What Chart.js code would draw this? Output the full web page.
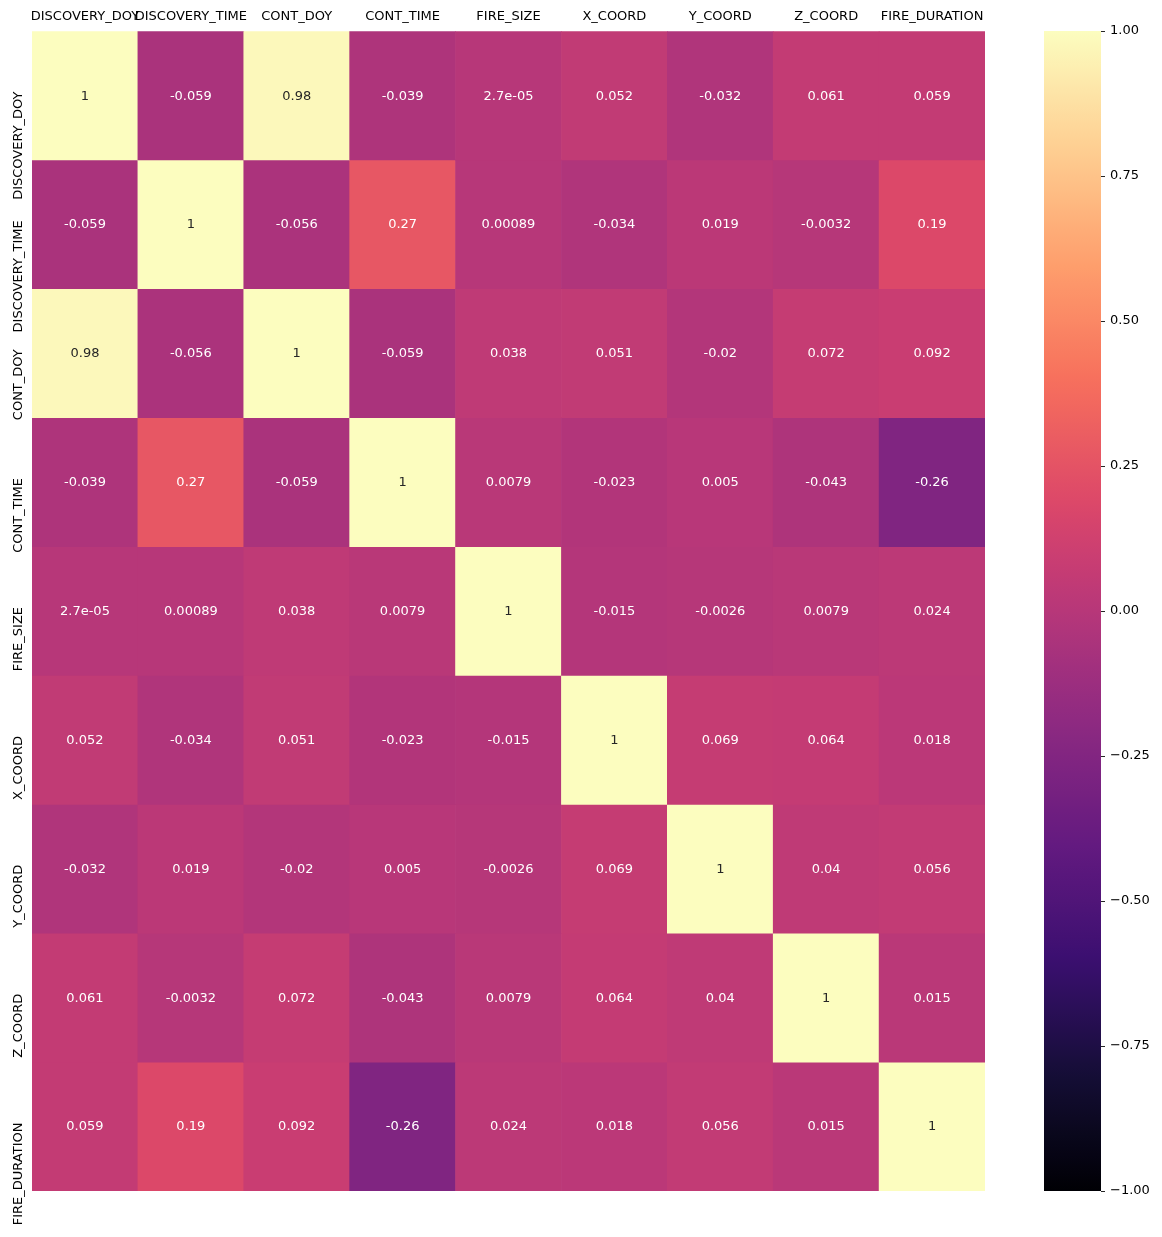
<!DOCTYPE html>
<html>
<head>
<meta charset="utf-8">
<script src="https://cdn.jsdelivr.net/npm/chart.js@4/dist/chart.umd.min.js"></script>
<style>
  html, body { margin: 0; padding: 0; background: #ffffff; }
  #wrap { position: relative; width: 1162px; height: 1237px; }
  #heat { position: absolute; left: 0; top: 0; }
  #cbar { position: absolute; left: 1000px; top: 0; }
</style>
</head>
<body>
<div id="wrap">
  <canvas id="heat" width="1162" height="1237"></canvas>
  <canvas id="cbar" width="162" height="1237"></canvas>
</div>
<script>
// ---------- DATA ----------
const variables = ['DISCOVERY_DOY', 'DISCOVERY_TIME', 'CONT_DOY', 'CONT_TIME', 'FIRE_SIZE', 'X_COORD', 'Y_COORD', 'Z_COORD', 'FIRE_DURATION'];

const rowDiscoveryDoy  = [1, -0.059, 0.98, -0.039, 2.7e-05, 0.052, -0.032, 0.061, 0.059];
const rowDiscoveryTime = [-0.059, 1, -0.056, 0.27, 0.00089, -0.034, 0.019, -0.0032, 0.19];
const rowContDoy       = [0.98, -0.056, 1, -0.059, 0.038, 0.051, -0.02, 0.072, 0.092];
const rowContTime      = [-0.039, 0.27, -0.059, 1, 0.0079, -0.023, 0.005, -0.043, -0.26];
const rowFireSize      = [2.7e-05, 0.00089, 0.038, 0.0079, 1, -0.015, -0.0026, 0.0079, 0.024];
const rowXCoord        = [0.052, -0.034, 0.051, -0.023, -0.015, 1, 0.069, 0.064, 0.018];
const rowYCoord        = [-0.032, 0.019, -0.02, 0.005, -0.0026, 0.069, 1, 0.04, 0.056];
const rowZCoord        = [0.061, -0.0032, 0.072, -0.043, 0.0079, 0.064, 0.04, 1, 0.015];
const rowFireDuration  = [0.059, 0.19, 0.092, -0.26, 0.024, 0.018, 0.056, 0.015, 1];

const matrix = [rowDiscoveryDoy, rowDiscoveryTime, rowContDoy, rowContTime, rowFireSize, rowXCoord, rowYCoord, rowZCoord, rowFireDuration];

const colorMin = -1;
const colorMax = 1;
const colorbarTicks = [-1, -0.75, -0.5, -0.25, 0, 0.25, 0.5, 0.75, 1];

// ---------- COLORMAP (magma) ----------
const magmaStops = [
  [0.00, [0, 0, 4]],
  [0.10, [20, 14, 54]],
  [0.20, [59, 15, 112]],
  [0.30, [100, 26, 128]],
  [0.40, [140, 41, 129]],
  [0.45, [161, 48, 126]],
  [0.50, [183, 55, 121]],
  [0.55, [203, 62, 113]],
  [0.60, [222, 73, 104]],
  [0.70, [247, 112, 92]],
  [0.80, [254, 159, 109]],
  [0.90, [254, 207, 146]],
  [1.00, [252, 253, 191]]
];
function magmaRGB(t) {
  t = Math.max(0, Math.min(1, t));
  for (let i = 1; i < magmaStops.length; i++) {
    const [t1, c1] = magmaStops[i];
    const [t0, c0] = magmaStops[i - 1];
    if (t <= t1) {
      const f = (t - t0) / (t1 - t0);
      return c0.map((c, k) => Math.round(c + (c1[k] - c) * f));
    }
  }
  return magmaStops[magmaStops.length - 1][1];
}
function magma(t) { const c = magmaRGB(t); return `rgb(${c[0]},${c[1]},${c[2]})`; }
function norm(v) { return (v - colorMin) / (colorMax - colorMin); }
function luminance(rgb) {
  const lin = rgb.map(c => { c /= 255; return c <= 0.03928 ? c / 12.92 : Math.pow((c + 0.055) / 1.055, 2.4); });
  return 0.2126 * lin[0] + 0.7152 * lin[1] + 0.0722 * lin[2];
}
// python ".2g" formatting
function fmtG(v) {
  if (v === 0) return '0';
  const e = Math.floor(Math.log10(Math.abs(v)));
  if (e < -4 || e >= 2) {
    let s = v.toExponential(1).replace(/\.0e/, 'e');
    return s.replace(/e([+-])(\d)$/, 'e$10$2');
  }
  let s = v.toPrecision(2);
  if (s.indexOf('.') >= 0) s = s.replace(/0+$/, '').replace(/\.$/, '');
  return s;
}

const FONT = 'DejaVu Sans';
const TEXT = '#000000';
const gridCol = 'rgba(255,255,255,0.22)';

// ---------- HEATMAP ----------
const annotPlugin = {
  id: 'annot',
  afterDraw(chart) {
    const ctx = chart.ctx;
    ctx.save();
    ctx.font = `13px "${FONT}"`;
    ctx.textAlign = 'center';
    ctx.textBaseline = 'middle';
    chart.data.datasets.forEach((ds, di) => {
      const meta = chart.getDatasetMeta(di);
      meta.data.forEach((el, j) => {
        const v = ds.values[j];
        const rgb = magmaRGB(norm(v));
        ctx.fillStyle = luminance(rgb) > 0.408 ? '#262626' : '#ffffff';
        const cy = (el.y + el.base) / 2;
        ctx.fillText(fmtG(v), el.x, cy + 0.5);
      });
    });
    // y tick labels (rotated; end of text sits just above the row centre)
    const ys = chart.scales.y;
    ctx.fillStyle = TEXT;
    ctx.textBaseline = 'alphabetic';
    ctx.textAlign = 'right';
    variables.forEach((name, r) => {
      const y = ys.getPixelForValue(r + 0.5);
      ctx.save();
      ctx.translate(21.5, y - 4);
      ctx.rotate(-Math.PI / 2);
      ctx.fillText(name, 0, 0);
      ctx.restore();
    });
    ctx.restore();
  }
};

new Chart(document.getElementById('heat'), {
  type: 'bar',
  data: {
    labels: variables,
    datasets: matrix.map((row, r) => ({
      label: variables[r],
      values: row,
      data: row.map(() => [r, r + 1]),
      backgroundColor: row.map(v => magma(norm(v))),
      borderWidth: 0,
      grouped: false,
      barPercentage: 1,
      categoryPercentage: 1
    }))
  },
  options: {
    responsive: false,
    devicePixelRatio: 1,
    animation: false,
    layout: { padding: { left: 32, right: 177, top: 0, bottom: 46 } },
    plugins: { legend: { display: false }, tooltip: { enabled: false } },
    scales: {
      x: {
        position: 'top',
        z: 1,
        offset: true,
        grid: {
          offset: true,
          drawTicks: false,
          lineWidth: 1,
          color: c => (c.index === 0 ? 'rgba(0,0,0,0)' : gridCol)
        },
        border: { display: false },
        ticks: { font: { family: FONT, size: 13 }, color: TEXT, padding: 7, maxRotation: 0, minRotation: 0, autoSkip: false },
        afterFit: s => { s.height = 31; }
      },
      y: {
        type: 'linear',
        min: 0,
        max: matrix.length,
        reverse: true,
        z: 1,
        ticks: { display: false, stepSize: 1 },
        grid: {
          drawTicks: false,
          lineWidth: 1,
          color: c => (c.index === 0 ? 'rgba(0,0,0,0)' : gridCol)
        },
        border: { display: false },
        afterFit: s => { s.width = 0; }
      }
    }
  },
  plugins: [annotPlugin]
});

// ---------- COLORBAR ----------
function cbGradient(context) {
  const chart = context.chart;
  const area = chart.chartArea;
  if (!area) return magma(0.5);
  const g = chart.ctx.createLinearGradient(0, area.bottom, 0, area.top);
  for (let i = 0; i <= 64; i++) {
    const t = i / 64;
    g.addColorStop(t, magma(t));
  }
  return g;
}

new Chart(document.getElementById('cbar'), {
  type: 'bar',
  data: {
    labels: ['colorbar'],
    datasets: [{
      data: [[colorMin, colorMax]],
      backgroundColor: cbGradient,
      borderWidth: 0,
      barPercentage: 1,
      categoryPercentage: 1
    }]
  },
  options: {
    responsive: false,
    devicePixelRatio: 1,
    animation: false,
    layout: { padding: { left: 44, right: 0, top: 31, bottom: 46 } },
    plugins: { legend: { display: false }, tooltip: { enabled: false } },
    scales: {
      x: { display: false },
      y: {
        position: 'right',
        min: colorMin,
        max: colorMax,
        afterBuildTicks: s => { s.ticks = colorbarTicks.map(v => ({ value: v })); },
        ticks: {
          font: { family: FONT, size: 13 },
          color: TEXT,
          padding: 5,
          callback: v => (v < 0 ? '\u2212' : '') + Math.abs(v).toFixed(2)
        },
        grid: { drawOnChartArea: false, drawTicks: true, tickLength: 4, color: '#262626', tickColor: '#262626', lineWidth: 1 },
        border: { display: false },
        afterFit: s => { s.width = 61; }
      }
    }
  }
});
</script>
</body>
</html>
